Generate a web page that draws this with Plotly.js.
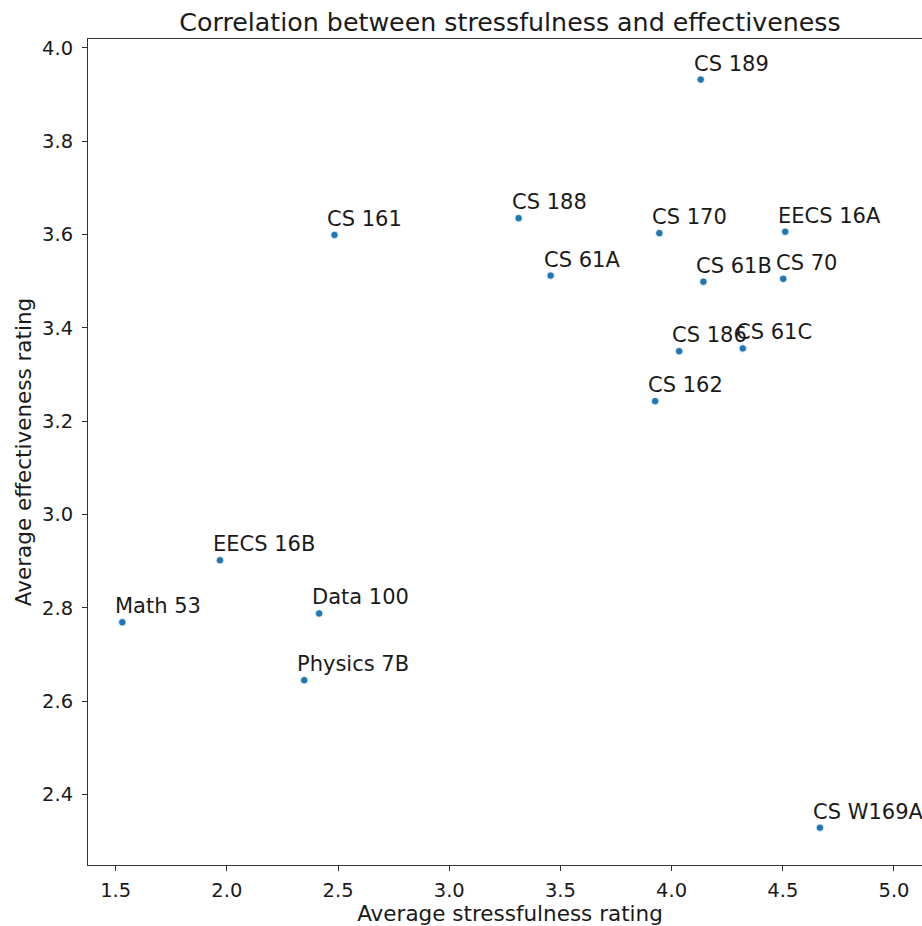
<!DOCTYPE html>
<html>
<head>
<meta charset="utf-8">
<script src="https://cdn.plot.ly/plotly-3.0.1.min.js"></script>
<style>
  html, body { margin: 0; padding: 0; background: #fff; overflow: hidden; }
  #chart { width: 932px; height: 926px; }
</style>
</head>
<body>
<div id="chart"></div>
<script>
// Course survey averages: stressfulness (x) vs effectiveness (y)
const courses = [
  "CS 189", "CS 188", "CS 161", "CS 170", "EECS 16A", "CS 61A", "CS 61B", "CS 70",
  "CS 186", "CS 61C", "CS 162", "EECS 16B", "Math 53", "Data 100", "Physics 7B", "CS W169A"
];
const stressfulness = [
  4.131, 3.312, 2.484, 3.945, 4.511, 3.456, 4.143, 4.502,
  4.034, 4.320, 3.926, 1.969, 1.530, 2.415, 2.348, 4.667
];
const effectiveness = [
  3.932, 3.635, 3.599, 3.603, 3.606, 3.512, 3.499, 3.505,
  3.350, 3.356, 3.243, 2.902, 2.769, 2.788, 2.645, 2.329
];
const xTicks = [1.5, 2.0, 2.5, 3.0, 3.5, 4.0, 4.5, 5.0];
const yTicks = [2.4, 2.6, 2.8, 3.0, 3.2, 3.4, 3.6, 3.8, 4.0];

const FONT = "DejaVu Sans, Verdana, sans-serif";
const INK = "#1a1a1a";

const trace = {
  type: "scatter",
  mode: "markers",
  x: stressfulness,
  y: effectiveness,
  marker: { color: "#1f77b4", size: 7.5, line: { color: "#ffffff", width: 0.8 } },
  hoverinfo: "skip",
  showlegend: false
};

// course name written just above-left of each point
const labels = courses.map((name, i) => ({
  x: stressfulness[i],
  y: effectiveness[i],
  xref: "x",
  yref: "y",
  text: name,
  showarrow: false,
  xanchor: "left",
  yanchor: "bottom",
  xshift: -8,
  yshift: 3,
  borderpad: 0,
  font: { family: FONT, size: 21, color: INK }
}));

const axisCommon = {
  showgrid: false,
  zeroline: false,
  showline: true,
  linecolor: "#333",
  linewidth: 1,
  mirror: true,
  ticks: "outside",
  ticklen: 5,
  tickwidth: 1,
  tickcolor: "#333",
  tickfont: { family: FONT, size: 19.5, color: INK },
  tickformat: ".1f"
};

const layout = {
  width: 932,
  height: 926,
  margin: { l: 88, r: 0, t: 39, b: 61 },
  paper_bgcolor: "#ffffff",
  plot_bgcolor: "#ffffff",
  font: { family: FONT, color: INK },
  title: {
    text: "Correlation between stressfulness and effectiveness",
    font: { family: FONT, size: 25.3, color: INK },
    x: 510 / 932,
    xref: "container",
    xanchor: "center",
    y: 1 - 22 / 926,
    yref: "container",
    yanchor: "middle"
  },
  xaxis: Object.assign({}, axisCommon, {
    range: [1.3756, 5.171],
    tickvals: xTicks,
    ticklabelstandoff: 3,
    title: { text: "Average stressfulness rating", font: { family: FONT, size: 21.5, color: INK }, standoff: 6 }
  }),
  yaxis: Object.assign({}, axisCommon, {
    range: [2.249, 4.019],
    tickvals: yTicks,
    ticklabelstandoff: 5,
    title: { text: "Average effectiveness rating", font: { family: FONT, size: 21.5, color: INK }, standoff: 4 }
  }),
  annotations: labels
};

Plotly.newPlot("chart", [trace], layout, { staticPlot: true, displayModeBar: false });
</script>
</body>
</html>
